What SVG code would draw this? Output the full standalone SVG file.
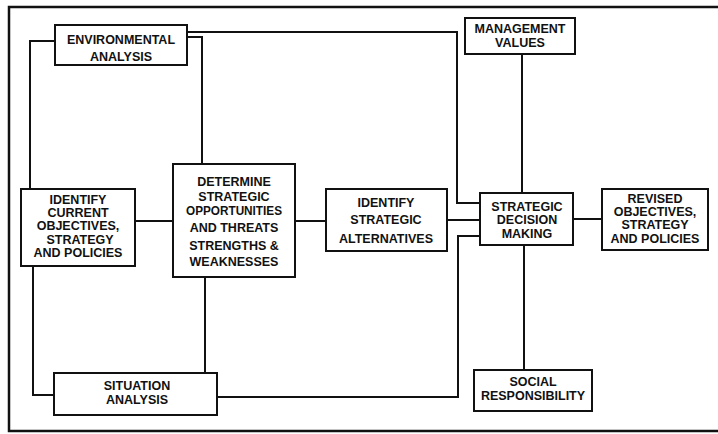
<svg xmlns="http://www.w3.org/2000/svg" width="718" height="434" viewBox="0 0 718 434">
<style>
.box{fill:#fff;stroke:#111;stroke-width:2}
.ln{fill:none;stroke:#111;stroke-width:2}
.frame{fill:none;stroke:#111;stroke-width:2.5}
text{font-family:"Liberation Sans",Arial,sans-serif;font-weight:bold;font-size:12.5px;fill:#111;text-anchor:middle;dominant-baseline:central}
</style>
<rect width="718" height="434" fill="#fff"/>
<path class="frame" d="M718,7 H9 V431 H718"/>
<g id="connectors">
<path class="ln" d="M55,41 H30 V190"/>
<path class="ln" d="M187,37 H202 V165"/>
<path class="ln" d="M187,32 H457 V203 H481"/>
<path class="ln" d="M135,221 H173"/>
<path class="ln" d="M295,221 H326"/>
<path class="ln" d="M447,220 H480"/>
<path class="ln" d="M573,219 H602"/>
<path class="ln" d="M522,54 V194"/>
<path class="ln" d="M524,245 V370"/>
<path class="ln" d="M33,266 V395 H54"/>
<path class="ln" d="M205,277 V373"/>
<path class="ln" d="M217,397 H458 V236 H481"/>
</g>
<g id="env">
<rect class="box" x="55" y="25" width="132" height="40"/>
<text x="121" y="40">ENVIRONMENTAL</text>
<text x="121" y="57">ANALYSIS</text>
</g>
<g id="mgmt">
<rect class="box" x="465" y="18" width="110" height="36"/>
<text x="520" y="29">MANAGEMENT</text>
<text x="520" y="43">VALUES</text>
</g>
<g id="current">
<rect class="box" x="21" y="189" width="114" height="77"/>
<text x="78" y="200">IDENTIFY</text>
<text x="78" y="213">CURRENT</text>
<text x="78" y="226">OBJECTIVES,</text>
<text x="80" y="240">STRATEGY</text>
<text x="78" y="253">AND POLICIES</text>
</g>
<g id="determine">
<rect class="box" x="173" y="164" width="122" height="113"/>
<text x="234" y="182">DETERMINE</text>
<text x="234" y="197">STRATEGIC</text>
<text x="234" y="211" textLength="96" lengthAdjust="spacingAndGlyphs">OPPORTUNITIES</text>
<text x="234" y="228">AND THREATS</text>
<text x="234" y="246">STRENGTHS &amp;</text>
<text x="234" y="262">WEAKNESSES</text>
</g>
<g id="alternatives">
<rect class="box" x="326" y="189" width="121" height="62"/>
<text x="386" y="203">IDENTIFY</text>
<text x="386" y="220">STRATEGIC</text>
<text x="386" y="239">ALTERNATIVES</text>
</g>
<g id="decision">
<rect class="box" x="480" y="193" width="93" height="52"/>
<text x="527" y="207">STRATEGIC</text>
<text x="527" y="220">DECISION</text>
<text x="527" y="234">MAKING</text>
</g>
<g id="revised">
<rect class="box" x="602" y="189" width="106" height="61"/>
<text x="655" y="199">REVISED</text>
<text x="655" y="212">OBJECTIVES,</text>
<text x="655" y="225">STRATEGY</text>
<text x="655" y="239">AND POLICIES</text>
</g>
<g id="situation">
<rect class="box" x="54" y="373" width="163" height="42"/>
<text x="137" y="386">SITUATION</text>
<text x="137" y="400">ANALYSIS</text>
</g>
<g id="social">
<rect class="box" x="474" y="370" width="118" height="41"/>
<text x="533" y="382">SOCIAL</text>
<text x="533" y="396">RESPONSIBILITY</text>
</g>
</svg>
